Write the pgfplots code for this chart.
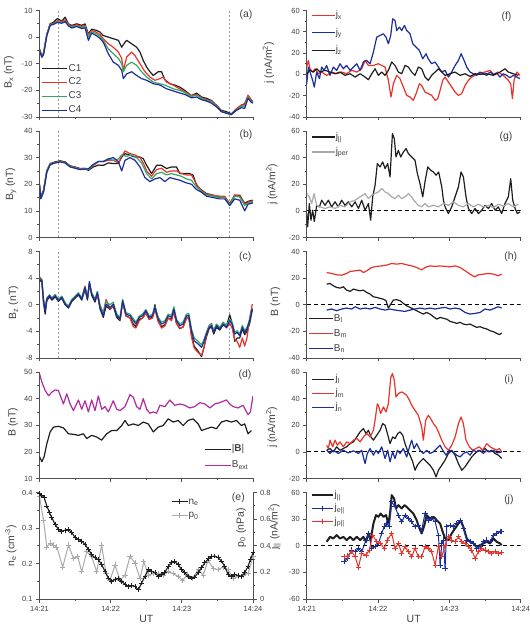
\documentclass[border=0pt]{standalone}
\usepackage{fontspec}
\setmainfont{Liberation Sans}
\usepackage{pgfplots}
\pgfplotsset{compat=1.18}
\definecolor{cred}{HTML}{E8332A}
\definecolor{cblue}{HTML}{1B2D9A}
\definecolor{cgreen}{HTML}{33A866}
\definecolor{cmag}{HTML}{B12A9F}
\definecolor{cgray}{HTML}{A9A9A9}
\definecolor{cblk}{HTML}{1E1E1E}
\definecolor{txt}{HTML}{404040}
\definecolor{axc}{HTML}{505050}
\definecolor{vline}{HTML}{9A9A9A}
\tikzset{plab/.style={anchor=east, font=\fontsize{10.5}{11}\selectfont, text=txt}}
\pgfplotsset{
  panel/.style={
    scale only axis, width=213.5bp, height=106.5bp,
    xmin=0, xmax=180,
    axis x line*=bottom, axis y line*=left,
    axis line style={-, draw=axc, line width=0.8bp},
    tick align=outside,
    tick style={draw=axc, line width=0.7bp},
    major tick length=3.5bp, minor tick length=2bp,
    xtick={0,60,120,180}, minor xtick={30,90,150},
    xticklabels={},
    minor y tick num=1,
    tick label style={font=\fontsize{7.5}{8}\selectfont, text=txt},
    label style={font=\fontsize{10.5}{11}\selectfont, text=txt},
    xlabel style={yshift=2.5bp},
    /pgf/number format/assume math mode=true,
    clip mode=individual,
    legend cell align=left,
    legend style={draw=none, fill=none, inner sep=0pt, anchor=north west,
      font=\fontsize{10}{11}\selectfont, text=txt,
      nodes={inner sep=0.6bp, text height=7bp, text depth=2bp}},
  },
  legimg/.style n args={2}{legend image code/.code={\draw[mark repeat=2,mark phase=2,##1] plot coordinates {(0bp,0bp) (#1bp,0bp) (#2bp,0bp)};}},
  dat/.style={line width=1.2bp, mark=none, line join=round},
  zl/.style={black, line width=0.8bp, dash pattern=on 4bp off 3bp, forget plot},
  vl/.style={vline, line width=0.8bp, dash pattern=on 2bp off 2bp, forget plot},
}
\begin{document}
\begin{tikzpicture}
%================ (a) Bx
\begin{axis}[panel, at={(39.5bp,507bp)}, anchor=south west,
  ymin=-30, ymax=10, ytick={-30,-20,-10,0,10},
  ylabel={B\textsubscript{x} (nT)},
  ylabel style={at={(axis description cs:-0.143,0.42)}, anchor=center},
  legimg={12.5}{25},
  legend style={at={(axis description cs:0.010,0.505)}, row sep=3.7bp}]
\addplot[vl] coordinates {(15.7,-30) (15.7,10)};
\addplot[vl] coordinates {(160.1,-30) (160.1,10)};
\addplot[dat, cblk] coordinates {(0,-4.4)(2,-7)(3.4,-6)(6.2,1.2)(9,5)(11.8,5.6)(15.1,7)(18.8,6)(21.6,7.5)(24.4,5)(27.2,4.4)(31.4,5)(35.6,4.4)(38.4,5)(41.2,1.2)(44,3)(48.2,2.5)(51,1.9)(53.8,0.6)(58,0)(62.2,-0.6)(66.5,-1.2)(69.3,-3.8)(72.1,-1.9)(73.5,-1.2)(77.7,-2.5)(81.9,-3.8)(84.7,-5.6)(87.5,-8.8)(90.3,-11.2)(93.1,-13)(95.9,-14.4)(100.1,-13)(102.9,-13)(105.7,-16)(109.9,-17.5)(114.1,-18)(118.3,-18.8)(122.5,-20)(128.1,-22)(132.4,-21)(136.6,-22.5)(140.8,-23)(145,-23.8)(149.2,-25.6)(153.4,-27.5)(157.6,-28)(161.8,-28.8)(166,-26.9)(170.2,-25.6)(173,-25)(175.8,-22)(178.6,-23.8)(180,-24.5)};
\addlegendentry{C1}
\addplot[dat, cred] coordinates {(0,-4.8)(2,-7.2)(3.4,-6.2)(6.2,1)(9,4.8)(11.8,5.2)(15.1,6.2)(18.8,5.8)(21.6,6.5)(24.4,4.8)(27.2,4)(31.4,4.6)(35.6,4)(38.4,4.5)(41.2,0.8)(44,2.5)(48.2,1.8)(51,1)(53.8,-0.6)(58,-2.5)(62.2,-3.8)(66.5,-5.6)(69.3,-8)(70.7,-12.5)(73.5,-7.5)(77.7,-5.6)(80.5,-6.9)(84.7,-10)(88.9,-13)(93.1,-15)(97.3,-16.2)(101.5,-15.6)(104.3,-15)(107.1,-16.9)(112.7,-18)(118.3,-19.5)(122.5,-20.5)(128.1,-22)(132.4,-21.5)(136.6,-22.8)(140.8,-23.5)(145,-24)(149.2,-25.8)(153.4,-27.8)(157.6,-28.5)(161.8,-29.2)(166,-27)(170.2,-25.5)(173,-25.5)(175.8,-21.8)(178.6,-23.5)(180,-24.2)};
\addlegendentry{C2}
\addplot[dat, cgreen] coordinates {(0,-5)(2,-7.4)(3.4,-6.4)(6.2,0.8)(9,4.6)(11.8,5)(15.1,5.8)(18.8,5.5)(21.6,6)(24.4,4.5)(27.2,3.8)(31.4,4.2)(35.6,3.6)(38.4,4)(41.2,0)(44,2)(48.2,1.2)(51,0.3)(53.8,-1.2)(58,-4.4)(62.2,-6.2)(66.5,-8)(69.3,-10)(70.7,-13)(73.5,-10.6)(77.7,-9.4)(81.9,-10.6)(86.1,-13)(90.3,-15)(95.9,-16.9)(101.5,-17.5)(105.7,-18)(112.7,-19.4)(118.3,-20)(122.5,-20.8)(128.1,-22.3)(132.4,-21.8)(136.6,-23)(140.8,-23.8)(145,-24.3)(149.2,-26)(153.4,-28)(157.6,-28.5)(161.8,-29)(166,-27.5)(170.2,-26)(173,-26)(175.8,-22.5)(178.6,-24)(180,-24.5)};
\addlegendentry{C3}
\addplot[dat, cblue] coordinates {(0,-5.2)(2,-7.6)(3.4,-6.6)(6.2,0.5)(9,4.4)(11.8,4.8)(15.1,5.5)(18.8,5.2)(21.6,5.8)(24.4,4.2)(27.2,3.4)(31.4,4)(35.6,3.2)(38.4,3.5)(41.2,-1.2)(44,1.5)(48.2,0.5)(51,-0.5)(53.8,-1.9)(58,-6.2)(62.2,-9.4)(66.5,-10.6)(69.3,-12.5)(70.7,-15.6)(73.5,-13.8)(77.7,-13)(81.9,-14.4)(86.1,-15.6)(90.3,-16.2)(95.9,-17.5)(101.5,-18)(107.1,-19.4)(112.7,-20.2)(118.3,-21)(122.5,-21.5)(128.1,-22.8)(132.4,-22.5)(136.6,-23.5)(140.8,-24)(145,-24.8)(149.2,-26.2)(153.4,-28)(157.6,-28.6)(161.8,-29)(166,-27.5)(170.2,-26.5)(173,-26.8)(175.8,-23)(178.6,-24.5)(180,-24.8)};
\addlegendentry{C4}
\node[plab] at (rel axis cs:1.014,0.958) {(a)};
\end{axis}
%================ (b) By
\begin{axis}[panel, at={(39.5bp,386.5bp)}, anchor=south west,
  ymin=0, ymax=40, ytick={0,10,20,30,40},
  ylabel={B\textsubscript{y} (nT)},
  ylabel style={at={(axis description cs:-0.1335,0.5)}, anchor=center}]
\addplot[vl] coordinates {(15.7,0) (15.7,40)};
\addplot[vl] coordinates {(160.1,0) (160.1,40)};
\addplot[dat, cblk] coordinates {(0,20.2)(1.1,15.2)(3.4,17.8)(6.2,25.2)(9,27.8)(13.2,28.4)(17.4,28.8)(21.6,28.4)(25.8,26.9)(30,26.5)(34.2,25.9)(38.4,25.9)(41.2,25.2)(45.4,26.5)(49.6,27.2)(53.8,27.1)(58,28)(62.2,27.8)(66.5,27.8)(69.3,30.2)(72.1,31.5)(76.3,30.9)(80.5,30.2)(84.7,30.2)(87.5,29.6)(90.3,27.1)(94.5,24)(98.7,27.1)(102.9,27.1)(107.1,25.9)(111.3,26.5)(115.5,26.5)(118.3,24)(122.5,24)(126.7,24)(129.5,23.4)(132.4,19.6)(136.6,17.8)(140.8,16.5)(146.4,15.9)(152,15.2)(156.2,15.2)(160.4,12.8)(164.6,15.9)(168.8,15.9)(173,12.8)(175.8,13.6)(180,14)};
\addplot[dat, cred] coordinates {(0,19.8)(1.1,15)(3.4,17.5)(6.2,25)(9,27.6)(13.2,28.2)(17.4,28.6)(21.6,28.2)(25.8,26.8)(30,26.4)(34.2,25.8)(38.4,26)(41.2,25.5)(45.4,27)(49.6,28.5)(53.8,28.5)(58,29)(62.2,29)(66.5,28)(69.3,30.5)(72.1,32.5)(76.3,31.5)(80.5,31)(84.7,30)(87.5,28)(90.3,25)(94.5,23)(98.7,25.5)(102.9,26)(107.1,24.5)(111.3,25)(115.5,25)(119.7,24)(123.9,23.5)(128.1,23.5)(132.4,20)(136.6,17.5)(140.8,16.3)(146.4,15.8)(152,15.5)(156.2,15.5)(160.4,12.5)(164.6,16)(168.8,15.5)(173,12.5)(175.8,13.2)(180,13.8)};
\addplot[dat, cgreen] coordinates {(0,19.6)(1.1,14.8)(3.4,17.3)(6.2,24.8)(9,27.5)(13.2,28.1)(17.4,28.5)(21.6,28.1)(25.8,26.6)(30,26.2)(34.2,25.6)(38.4,25.8)(41.2,25.6)(45.4,27.2)(49.6,28.6)(53.8,28.6)(58,29.5)(62.2,29)(66.5,29.5)(69.3,31)(73.5,30.5)(77.7,31)(81.9,30)(86.1,28)(90.3,24)(94.5,22)(98.7,24)(102.9,24.5)(107.1,23.5)(111.3,24)(115.5,23.5)(119.7,23)(123.9,22)(128.1,21.5)(132.4,19)(136.6,17.3)(140.8,16)(146.4,15.5)(152,15)(156.2,15)(160.4,12.3)(164.6,15.5)(168.8,15.2)(173,12)(175.8,12.8)(180,13.5)};
\addplot[dat, cblue] coordinates {(0,19.5)(1.1,14.5)(3.4,17)(6.2,24.5)(9,27.3)(13.2,28)(17.4,28.4)(21.6,28)(25.8,26.5)(30,26)(34.2,25.5)(38.4,25.7)(41.2,25.8)(45.4,27.5)(49.6,28.5)(53.8,28.5)(58,29.5)(62.2,30)(66.5,28.5)(69.3,25)(72.1,29)(76.3,30)(80.5,29)(84.7,26.5)(88.9,22.5)(93.1,21)(97.3,22)(101.5,22.5)(105.7,21)(109.9,22.5)(114.1,22)(118.3,21.5)(123.9,20.5)(128.1,20)(132.4,18)(136.6,17)(140.8,15.5)(146.4,15)(152,14.5)(156.2,14.5)(160.4,12)(164.6,14.5)(168.8,14)(173,10)(175.8,12.5)(180,13)};
\node[plab] at (rel axis cs:1.014,0.962) {(b)};
\end{axis}
%================ (c) Bz
\begin{axis}[panel, at={(39.5bp,266bp)}, anchor=south west,
  ymin=-8, ymax=8, ytick={-8,-4,0,4,8},
  ylabel={B\textsubscript{z} (nT)},
  ylabel style={at={(axis description cs:-0.1218,0.52)}, anchor=center}]
\addplot[vl] coordinates {(15.7,-8) (15.7,8)};
\addplot[vl] coordinates {(160.1,-8) (160.1,8)};
\addplot[dat, cblk] coordinates {(0,3.7)(2,3.4)(3.4,0.2)(4.8,-1.4)(6.2,0.6)(8.4,1.2)(10.4,0.7)(13.2,1.2)(16,0.5)(18.8,1)(21.6,0)(24.4,-0.5)(27.2,0.5)(30,1)(32.8,1.5)(35.6,0.7)(38.4,2.3)(40.4,0.7)(42.1,3.2)(44,1.4)(46.8,0.4)(48.8,1.6)(51,-0.6)(53.8,-1.9)(56.1,-0.2)(59.4,-0.7)(62.2,-0.2)(65.1,-1.9)(67.9,-2.4)(70.1,0.4)(72.9,-1.7)(76.3,-2)(79.1,-2.9)(81.3,-3.3)(84.1,-2.2)(86.9,-2)(89.7,-1.2)(92.5,-2.2)(95.3,-1.8)(97.3,0)(100.1,-2.5)(102.9,-3.3)(105.7,-3)(108.5,-2)(111.3,-2.2)(113.3,-1)(115.5,-2.8)(118.3,-3.6)(121.1,-3.3)(123.9,-2)(125.9,-2)(128.1,-4.5)(130.4,-6.2)(133.8,-7)(136.6,-7.8)(138.5,-6.5)(140.8,-4.8)(143,-3.6)(145,-3.3)(146.9,-4.4)(149.2,-3.4)(152,-3.8)(154.8,-3)(157.6,-3.2)(160.4,-1.5)(162.4,-2.8)(164.6,-5.5)(166.6,-5)(168.8,-5)(171,-3.6)(173,-4.5)(174.9,-4)(177.2,-2.8)(179.4,-0.8)};
\addplot[dat, cred] coordinates {(0,4.2)(2,3.8)(3.4,0.5)(4.8,-0.5)(6.2,1)(8.4,1.4)(10.4,1)(13.2,1.5)(16,0.7)(18.8,1.2)(21.6,0.2)(24.4,-0.3)(27.2,0.7)(30,1.2)(32.8,1.7)(35.6,1)(38.4,2.8)(40.4,1)(42.1,3)(44,1.8)(46.8,0.8)(48.8,1.4)(51,-0.2)(53.8,-1.2)(56.1,0.8)(59.4,-0.6)(62.2,0)(65.1,-1.5)(67.9,-2.3)(70.1,0.4)(72.9,-1.6)(76.3,-2)(79.1,-3.3)(81.3,-3.5)(84.1,-2.4)(86.9,-2)(89.7,-1.2)(92.5,-2.2)(95.3,-2)(97.3,-0.8)(100.1,-2.5)(102.9,-3.5)(105.7,-3.2)(108.5,-2)(111.3,-2.4)(113.3,-1)(115.5,-2.8)(118.3,-3.5)(121.1,-3.4)(123.9,-2)(125.9,-1.8)(128.1,-4.8)(130.4,-6.5)(133.8,-7.2)(136.6,-7.6)(138.5,-6.6)(140.8,-4.6)(143,-3.2)(145,-2.8)(146.9,-4)(149.2,-3)(152,-3.5)(154.8,-2.8)(157.6,-3.5)(160.4,-2.8)(162.4,-3.5)(164.6,-5.2)(166.6,-5.5)(168.8,-6.4)(171,-5)(173,-6.2)(174.9,-5)(177.2,-2)(179.4,0.1)};
\addplot[dat, cgreen] coordinates {(0,4)(2,3.7)(3.4,0.8)(4.8,-0.6)(6.2,1)(8.4,1.5)(10.4,1)(13.2,1.5)(16,0.8)(18.8,1.3)(21.6,0.3)(24.4,-0.2)(27.2,0.8)(30,1.3)(32.8,1.8)(35.6,1)(38.4,2.7)(40.4,1)(42.1,3.3)(44,1.8)(46.8,0.8)(48.8,2)(51,0)(53.8,-1.3)(56.1,0.5)(59.4,0)(62.2,0.4)(65.1,-1.4)(67.9,-1.9)(70.1,0.8)(72.9,-1.2)(76.3,-1.4)(79.1,-2.1)(81.3,-2.6)(84.1,-1.7)(86.9,-1.4)(89.7,-0.7)(92.5,-1.7)(95.3,-1.4)(97.3,-0.3)(100.1,-1.9)(102.9,-2.6)(105.7,-2.4)(108.5,-1.4)(111.3,-1.6)(113.3,-0.3)(115.5,-2.2)(118.3,-2.9)(121.1,-2.6)(123.9,-1.4)(125.9,-1.3)(128.1,-3.6)(130.4,-5)(133.8,-5.5)(136.6,-6)(138.5,-5.3)(140.8,-4.1)(143,-3.1)(145,-2.9)(146.9,-3.9)(149.2,-2.9)(152,-3.4)(154.8,-2.6)(157.6,-3.1)(160.4,-2.2)(162.4,-2.6)(164.6,-4.1)(166.6,-3.9)(168.8,-4.4)(171,-3.1)(173,-3.9)(174.9,-3.4)(177.2,-2.2)(179.4,-0.5)};
\addplot[dat, cblue] coordinates {(0,3.85)(2,3.6)(3.4,0.6)(4.8,-0.9)(6.2,0.85)(8.4,1.35)(10.4,0.85)(13.2,1.35)(16,0.6)(18.8,1.1)(21.6,0.1)(24.4,-0.4)(27.2,0.6)(30,1.1)(32.8,1.6)(35.6,0.85)(38.4,2.6)(40.4,0.85)(42.1,3.5)(44,1.6)(46.8,0.6)(48.8,1.85)(51,-0.4)(53.8,-1.65)(56.1,0.1)(59.4,-0.4)(62.2,0.1)(65.1,-1.65)(67.9,-2.15)(70.1,0.6)(72.9,-1.4)(76.3,-1.65)(79.1,-2.4)(81.3,-2.9)(84.1,-1.9)(86.9,-1.65)(89.7,-0.9)(92.5,-1.9)(95.3,-1.65)(97.3,-0.4)(100.1,-2.15)(102.9,-2.9)(105.7,-2.65)(108.5,-1.65)(111.3,-1.9)(113.3,-0.65)(115.5,-2.4)(118.3,-3.15)(121.1,-2.9)(123.9,-1.65)(125.9,-1.65)(128.1,-3.9)(130.4,-5.4)(133.8,-5.9)(136.6,-6.4)(138.5,-5.65)(140.8,-4.4)(143,-3.4)(145,-3.15)(146.9,-4.15)(149.2,-3.15)(152,-3.65)(154.8,-2.9)(157.6,-3.4)(160.4,-2.4)(162.4,-2.9)(164.6,-4.4)(166.6,-4.15)(168.8,-4.65)(171,-3.4)(173,-4.15)(174.9,-3.65)(177.2,-2.4)(179.4,-0.65)};
\node[plab] at (rel axis cs:1.009,0.946) {(c)};
\end{axis}
%================ (d) B
\begin{axis}[panel, at={(39.5bp,145.5bp)}, anchor=south west,
  ymin=10, ymax=50, ytick={10,20,30,40,50},
  ylabel={B (nT)},
  ylabel style={at={(axis description cs:-0.124,0.53)}, anchor=center},
  legimg={13}{26},
  legend style={at={(axis description cs:0.770,0.325)}, row sep=5.8bp}]
\addplot[dat, cblk] coordinates {(0,18.2)(2,16.3)(3.9,18.2)(6.2,23.1)(9,27.5)(11.8,29.3)(16,29.6)(20.2,29)(24.4,26.8)(28.6,26.6)(32.8,26.2)(37,26.8)(39.8,25)(44,26.2)(48.2,25.6)(52.4,24.4)(56.6,26.8)(60.8,28)(65.1,28)(69.3,29.9)(72.1,31.8)(74.9,29.9)(79.1,30.5)(83.3,29.9)(87.5,31.2)(91.7,30.5)(95.9,27.5)(100.1,29.3)(104.3,29.9)(108.5,32.4)(112.7,31.2)(116.9,31.8)(121.1,29.9)(125.3,31.8)(129.5,32.4)(133.8,30.5)(136.6,28)(140.8,28.7)(145,29.3)(149.2,28.7)(153.4,31.2)(157.6,31.8)(161.8,31.2)(166,31.8)(170.2,29.9)(173,30.5)(175.8,26.8)(178.6,28)};
\addlegendentry{|\textbf{B}|}
\addplot[dat, cmag] coordinates {(0,49.4)(2,46.2)(4.8,43)(7.6,41.1)(10.4,42.4)(13.2,43.3)(16,43)(20.2,38)(23,41.8)(25.8,38)(28.6,35.5)(32.8,39.5)(35.6,36)(38.4,39.2)(41.2,35)(44,39.5)(46.8,35.5)(49.6,41)(52.4,36)(55.2,37)(58,35)(62.2,39.2)(65.1,36)(67.9,35.5)(72.1,37)(76.3,41.5)(79.1,40.5)(81.9,37)(84.7,36)(87.5,40)(90.3,36)(93.1,34.5)(95.9,35)(98.7,34.5)(101.5,37.5)(105.7,37)(109.9,39.5)(114.1,37.5)(118.3,38)(122.5,37.5)(126.7,36.5)(130.9,37)(135.2,38.5)(139.4,38)(143.6,36.5)(147.8,38)(152,38.5)(157.6,39.5)(160.4,38)(163.2,37)(167.4,36.5)(171.6,37.5)(175.8,34)(177.8,35)(180,41)};
\addlegendentry{B\textsubscript{ext}}
\node[plab] at (rel axis cs:1.009,0.972) {(d)};
\end{axis}
%================ (e) ne & p0
\begin{axis}[panel, at={(39.5bp,25bp)}, anchor=south west,
  axis x line=none, axis y line*=right,
  ymin=0, ymax=0.8, ytick={0,0.2,0.4,0.6,0.8},
  yticklabels={0,0.2,0.4,0.6,0.8}]
\addplot[line width=1bp, cgray, mark=+, mark size=2.6bp, mark options={line width=0.8bp}] coordinates {(0,0.77)(3.4,0.59)(6.2,0.39)(9,0.42)(11.8,0.405)(14.6,0.39)(19.6,0.24)(24.4,0.405)(28.6,0.305)(32.2,0.32)(35.6,0.205)(39.8,0.355)(44,0.32)(48.2,0.205)(52.4,0.405)(56.1,0.19)(59.4,0.14)(63.7,0.255)(67.9,0.14)(72.1,0.18)(76.3,0.32)(80.5,0.27)(84.7,0.155)(88,0.28)(91.7,0.18)(95.9,0.19)(100.1,0.19)(104.3,0.18)(108.5,0.205)(112.7,0.19)(116.9,0.17)(120.6,0.14)(124.5,0.18)(128.9,0.155)(133.8,0.22)(138,0.18)(142.2,0.29)(146.4,0.23)(150.6,0.22)(154.8,0.24)(159,0.22)(163.2,0.155)(167.4,0.17)(171.6,0.18)(175.8,0.19)(180,0.32)};
\end{axis}
\begin{axis}[panel, at={(39.5bp,25bp)}, anchor=south west,
  ymin=0.1, ymax=0.4, ytick={0.1,0.2,0.3,0.4},
  yticklabels={0.1,0.2,0.3,0.4},
  xticklabels={14:21,14:22,14:23,14:24}, xlabel={UT},
  ylabel={n\textsubscript{e} (cm\textsuperscript{-3})},
  ylabel style={at={(axis description cs:-0.1335,0.5)}, anchor=center},
  legimg={8}{16},
  legend style={at={(axis description cs:0.615,0.962)}, row sep=3.1bp}]
\addplot[line width=1.1bp, cblk, mark=+, mark size=2.4bp, mark options={line width=0.8bp}] coordinates {(0,0.397)(2,0.392)(3.9,0.386)(6.2,0.362)(8.4,0.343)(10.4,0.329)(13.2,0.31)(16,0.296)(18.8,0.291)(21.6,0.294)(24.4,0.296)(27.2,0.287)(30,0.273)(32.8,0.268)(35.6,0.263)(38.4,0.254)(41.2,0.24)(44,0.225)(46.8,0.216)(49.6,0.211)(52.4,0.197)(55.2,0.178)(58,0.159)(60.8,0.15)(63.7,0.155)(66.5,0.157)(69.3,0.15)(72.1,0.141)(74.9,0.136)(77.7,0.138)(80.5,0.136)(83.3,0.126)(86.1,0.145)(88.9,0.164)(91.7,0.183)(94.5,0.178)(97.3,0.174)(100.1,0.164)(102.9,0.169)(105.7,0.175)(108.5,0.192)(111.3,0.202)(114.1,0.205)(116.9,0.197)(119.7,0.183)(122.5,0.174)(125.3,0.164)(128.1,0.159)(130.9,0.162)(133.8,0.174)(136.6,0.188)(139.4,0.202)(142.2,0.213)(145,0.219)(147.8,0.221)(150.6,0.216)(153.4,0.207)(156.2,0.192)(159,0.169)(161.8,0.164)(164.6,0.169)(167.4,0.166)(170.2,0.164)(173,0.174)(175.8,0.192)(177.8,0.211)(180,0.23)};
\addlegendentry{n\textsubscript{e}}
\addlegendimage{line width=1bp, cgray, mark=+, mark size=2.6bp, mark options={line width=0.8bp}}
\addlegendentry{p\textsubscript{0}}
\node[plab] at (rel axis cs:0.978,0.955) {(e)};
\node[rotate=90, font=\fontsize{10.5}{11}\selectfont, text=txt] at (rel axis cs:0.944,0.67) {p\textsubscript{0} (nPa)};
\end{axis}
%================ (f) j xyz
\begin{axis}[panel, at={(306.7bp,507bp)}, anchor=south west, width=214bp,
  ymin=-40, ymax=60, ytick={-40,-20,0,20,40,60},
  ylabel={j (nA/m\textsuperscript{2})},
  ylabel style={at={(axis description cs:-0.179,0.51)}, anchor=center},
  legimg={11.5}{23},
  legend style={at={(axis description cs:0.019,1.006)}, row sep=7.3bp}]
\addplot[dat, cred] coordinates {(0,6.9)(1.4,13.1)(2.8,5.3)(5,2.2)(7,5.3)(9.8,0.6)(12.6,2.2)(16.8,-0.9)(21,2.2)(25.2,0.6)(29.4,2.2)(33.6,0.6)(37.9,3.8)(42.1,2.2)(46.3,5.3)(49.1,13.1)(51.9,8.4)(56.1,8.4)(60.3,10)(63.1,8.4)(65.9,6.9)(68.7,-5.6)(70.9,-21.2)(72.9,-8.8)(75.7,-0.9)(78.5,-4)(81.3,-11.9)(84.1,-19.7)(86.9,-21.2)(89.7,-24.4)(92,-18.1)(94.8,-8.8)(96.7,-10.3)(99.5,-16.6)(102.3,-18.1)(105.1,-19.7)(108,-24.4)(110.2,-22.8)(112.2,-15)(114.4,-5.6)(116.4,-2.5)(119.2,-7.2)(122,-11.9)(124.8,-16.6)(127.6,-19.7)(130.4,-18.1)(133.2,-10.3)(136,-5.6)(138.8,-2.5)(141.6,-0.9)(145.8,1.2)(150,2.2)(154.2,3.8)(157,0)(161.2,2.2)(165.4,-0.9)(169.6,-5.6)(171.6,-8.8)(173,-22.8)(174.4,-5.6)(176.7,2.2)(179.4,-0.9)};
\addlegendentry{j\textsubscript{x}}
\addplot[dat, cblue] coordinates {(0,-8.8)(1.4,6.9)(2.8,2.2)(5,-5.6)(6.4,-11.9)(8.4,2.2)(10.7,-4)(12.6,6.9)(14.6,3.8)(16.8,8.4)(19.6,-0.9)(22.4,6.9)(25.2,3.8)(28,10)(30.8,5.3)(33.6,8.4)(36.5,3.8)(39.3,6.9)(42.1,10)(44.9,3.8)(47.7,11.6)(50.5,13.1)(53.3,10)(56.1,20.9)(58.9,35)(61.7,36.6)(64.5,38.1)(66.7,35)(68.7,28.8)(70.7,36.6)(72.3,52.2)(74.3,50.6)(75.7,41.2)(78,44.4)(79.9,41.2)(82.2,46)(84.1,41.2)(86.9,38.1)(89.2,28.8)(92,25.6)(94.8,22.5)(97.6,14.7)(100.4,19.4)(102.2,14.7)(105.1,10)(108,11.6)(110.8,6.9)(113.6,2.2)(116.4,3.8)(119.2,-2.5)(122,2.2)(124.8,8.4)(127.6,13.1)(129.9,19.4)(132.4,13.1)(134.6,6.9)(137.4,2.2)(140.2,0.6)(143,-0.9)(145.8,2.2)(148.6,0.6)(151.4,-0.9)(154.2,2.2)(157,0)(159.8,1.2)(162.6,-2.5)(165.4,0.6)(168.2,-0.9)(171,-3.1)(173.8,-0.9)(176.7,-2.5)(179.4,-4)};
\addlegendentry{j\textsubscript{y}}
\addplot[dat, cblk] coordinates {(0,0.6)(2.8,3.8)(5.6,2.2)(8.4,5.3)(11.2,2.2)(15.4,3.8)(19.6,2.2)(23.8,0.6)(28,2.2)(32.2,-0.9)(36.5,0.6)(40.7,-2.5)(44.9,0.6)(49.1,-2.5)(51.9,-5)(54.7,0.6)(57.5,5.3)(60.3,-0.9)(63.1,2.2)(65.9,-0.9)(68.7,3.8)(71.5,11.6)(74.3,8.4)(77.1,2.2)(79.9,0.6)(82.7,8.4)(85.5,6.9)(88.3,2.2)(91.1,-0.9)(93.9,6.9)(96.7,5.3)(99.5,-2.5)(102.3,-5.6)(105.1,-0.9)(108,2.2)(110.8,5.3)(113.6,2.2)(116.4,-0.9)(120.6,0.6)(124.8,2.2)(129,-0.9)(133.2,0.6)(137.4,-1.9)(141.6,0.6)(145.8,0)(151.4,0.6)(157,-0.9)(162.6,2.2)(166.8,5.3)(169.6,2.2)(173.8,0.6)(178.1,-0.9)};
\addlegendentry{j\textsubscript{z}}
\node[plab] at (rel axis cs:0.973,0.942) {(f)};
\end{axis}
%================ (g) j par/per
\begin{axis}[panel, at={(306.7bp,386.5bp)}, anchor=south west, width=214bp,
  ymin=-20, ymax=60, ytick={-20,0,20,40,60},
  ylabel={j (nA/m\textsuperscript{2})},
  ylabel style={at={(axis description cs:-0.163,0.5)}, anchor=center},
  legimg={11.5}{23},
  legend style={at={(axis description cs:0.019,0.994)}, row sep=4.8bp}]
\addplot[zl] coordinates {(0,0) (180,0)};
\addplot[dat, cblk] coordinates {(0,-2)(0.8,-12)(2.2,5.5)(3.6,-7)(5,0.5)(6.4,-8)(8.4,4.2)(10.7,3)(12.6,8)(15.4,4.2)(18.2,8)(21,3)(23.8,6.8)(26.6,3)(29.4,8)(32.2,4.2)(35,6.8)(37.9,3)(40.7,6.8)(43.5,1.8)(46.3,8)(49.1,0.5)(51.9,5.5)(53.8,-7)(55.5,10.5)(57.5,19.2)(59.4,35.5)(61.7,33)(63.9,36.8)(65.9,31.8)(68.1,35.5)(70.1,25.5)(72.1,58)(73.7,54.2)(75.1,40.5)(77.1,45.5)(79.1,40.5)(81.3,44.2)(83.6,46.8)(85.5,43)(88.3,40.5)(91.1,38)(93.1,28)(95.3,20.5)(97.6,10.5)(99.5,21.8)(101.8,33)(104.3,30.5)(106.6,29.2)(108.8,26.8)(111,29.2)(113.6,18)(115,8)(116.4,3)(119.2,-2)(122,3)(124.8,10.5)(127.6,18)(129.8,29.2)(131.8,25.5)(134,10.5)(136,1.8)(138.8,-2)(141.6,1.8)(144.4,-2)(147.2,0.5)(150,4.2)(152.8,1.8)(155.6,5.5)(158.4,0.5)(161.2,3)(164,-2)(166.8,5.5)(169.6,10.5)(171.6,24.2)(173.3,8)(175.3,1.8)(177.2,-2)(179.4,-0.8)};
\addlegendentry{j\textsubscript{||}}
\addplot[dat, cgray] coordinates {(0,13)(2.2,10.5)(4.2,5.5)(6.2,13)(8.4,4.2)(11.2,3)(15.4,1.8)(19.6,3)(23.8,1.8)(28,4.2)(32.2,3)(36.5,6.8)(40.7,8)(44.9,10.5)(49.1,13)(51.9,9.2)(54.7,11.8)(57.5,13)(60.3,14.2)(63.1,16.8)(65.9,14.2)(68.7,13)(71.5,10.5)(74.3,9.2)(77.1,11.8)(79.9,9.2)(82.7,10.5)(85.5,13)(88.3,10.5)(91.1,6.8)(93.9,4.2)(96.7,3)(99.5,5.5)(102.3,3)(106.6,4.2)(110.8,3)(115,5.5)(119.2,4.2)(123.4,6.8)(127.6,4.2)(131.8,3)(136,5.5)(140.2,3)(144.4,5)(148.6,3)(152.8,4.2)(157,2.5)(161.2,5)(165.4,3.5)(169.6,5.5)(173.8,3)(178.1,5)};
\addlegendentry{j\textsubscript{per}}
\node[plab] at (rel axis cs:0.978,0.946) {(g)};
\end{axis}
%================ (h) B lmn
\begin{axis}[panel, at={(306.7bp,266bp)}, anchor=south west, width=214bp,
  ymin=-40, ymax=40, ytick={-40,-20,0,20,40},
  ylabel={B (nT)},
  ylabel style={at={(axis description cs:-0.1463,0.53)}, anchor=center},
  legimg={12}{24},
  legend style={at={(axis description cs:0.006,0.42)}, row sep=4.8bp}]
\addplot[zl] coordinates {(0,0) (180,0)};
\addplot[dat, cblk] coordinates {(16.8,15.5)(19.6,16)(22.4,14.2)(25.2,13)(28,12.5)(30.8,13.5)(33.6,11)(36.5,10)(39.3,11.8)(42.1,11)(44.9,10.5)(47.7,11)(50.5,9.2)(53.3,8)(56.1,6)(58.9,5.5)(61.7,4.8)(64.5,4.2)(66.7,3)(68.7,-2.5)(70.7,0.5)(72.9,3.5)(75.7,3.8)(78.5,3)(81.3,1)(84.1,-0.8)(86.9,-2)(89.7,-3.2)(92.5,-4.5)(95.3,-5.8)(98.1,-7)(100.9,-5.8)(103.7,-7)(106.6,-9)(109.4,-10.8)(112.2,-9.5)(115,-10.2)(117.8,-10.8)(120.6,-12.5)(123.4,-13.2)(126.2,-14)(129,-13.2)(131.8,-14.5)(134.6,-15)(137.4,-14.5)(140.2,-15.8)(143,-17)(145.8,-16.5)(148.6,-17.5)(151.4,-18.2)(154.2,-19.5)(157,-20.2)(159.8,-21.5)(162,-22.5)(164,-21.2)};
\addlegendentry{B\textsubscript{l}}
\addplot[dat, cred] coordinates {(16.8,24.2)(21,23.5)(25.2,22.5)(29.4,22.2)(33.6,23.5)(36.5,25)(40.7,25.5)(44.9,26)(47.7,24.2)(50.5,25.5)(54.7,28)(58.9,28.8)(63.1,29.2)(67.3,29.8)(71.5,31)(75.7,30.5)(79.9,31)(84.1,30)(88.3,29.2)(92.5,28)(96.7,26.2)(99.5,28)(103.7,29.2)(108,28.8)(112.2,29.2)(116.4,28.8)(120.6,28.5)(124.8,29.2)(129,28)(133.2,25.5)(137.4,23)(141,21)(144.4,22.5)(148.6,23)(152.8,23.5)(157,23)(161.2,21.8)(164,23)};
\addlegendentry{B\textsubscript{m}}
\addplot[dat, cblue] coordinates {(16.8,-4)(21,-3.2)(25.2,-4.5)(29.4,-3.2)(33.6,-2.5)(37.9,-3.2)(40.7,-1.5)(44.9,-3.2)(49.1,-2.5)(53.3,-3.2)(57.5,-2)(61.7,-3.2)(65.9,-4)(70.1,-3.2)(74.3,-4)(78.5,-4.5)(82.7,-5)(86.9,-4)(91.1,-3.2)(95.3,-2.5)(99.5,-3.2)(103.7,-2.5)(108,-3.2)(112.2,-2.5)(116.4,-2)(120.6,-3.2)(124.8,-2.5)(129,-3.2)(133.2,-5.8)(137.4,-7)(141.6,-6.5)(145.8,-5.8)(150,-3.2)(154.2,-4)(158.4,-2.5)(161.2,-1.5)(164,-2.5)};
\addlegendentry{B\textsubscript{n}}
\node[plab] at (rel axis cs:1.0,0.951) {(h)};
\end{axis}
%================ (i) j lmn
\begin{axis}[panel, at={(306.7bp,145.5bp)}, anchor=south west, width=214bp,
  ymin=-20, ymax=60, ytick={-20,0,20,40,60},
  ylabel={j (nA/m\textsuperscript{2})},
  ylabel style={at={(axis description cs:-0.164,0.48)}, anchor=center},
  legimg={11}{22},
  legend style={at={(axis description cs:0.023,0.982)}, row sep=3.8bp}]
\addplot[zl] coordinates {(0,0) (180,0)};
\addplot[dat, cblk] coordinates {(16.8,1.2)(19.6,2.5)(22.4,0)(25.2,3.8)(28,1.2)(30.8,2.5)(33.6,3.8)(36.5,6.2)(39.3,7.5)(42.1,11.2)(44.9,15)(47.7,17.5)(49.9,13.8)(51.9,16.2)(54.1,11.2)(56.1,8.8)(58.9,12.5)(61.7,16.2)(63.9,21.2)(65.9,20)(67.9,13.8)(70.1,6.2)(72.3,11.2)(74.3,10)(76.6,13.8)(78.5,15)(80.8,12.5)(82.7,6.2)(84.7,1.2)(86.9,-2.5)(89.2,-7.5)(91.1,-13.8)(93.1,-10)(95.3,-7.5)(98.1,-5)(100.9,-7.5)(103.7,-10)(106.6,-13.8)(108.8,-18.8)(110.8,-13.8)(113.6,-10)(116.4,-6.2)(119.2,-1.2)(122,1.2)(124.8,-2.5)(127.6,-8.8)(130.4,-13.8)(133.2,-11.2)(136,-7.5)(138.8,-3.8)(141.6,-1.2)(144.4,1.2)(147.2,0)(150,2.5)(152.8,0)(155.6,1.2)(158.4,-1.2)(161.2,-2.5)(164,-5)};
\addlegendentry{j\textsubscript{l}}
\addplot[dat, cred] coordinates {(16.8,5)(18.2,2.5)(19.6,8.8)(21.9,3.8)(23.8,8.8)(25.8,5)(28,7.5)(30.8,3.8)(33.6,7.5)(36.5,6.2)(39.3,8.8)(42.1,10)(44.9,7.5)(47.7,11.2)(50.5,13.8)(53.3,11.2)(56.1,16.2)(57.5,23.8)(59.4,36)(60.3,35)(62.2,28.8)(64.5,33.8)(66.7,30)(68.7,36.2)(70.7,56)(72.1,58.8)(73.7,53.8)(75.1,41.2)(77.1,43.8)(79.9,45)(82.2,43.8)(84.1,42.5)(86.4,38.8)(88.3,35)(91.1,31.2)(93.9,27.5)(96.7,18.8)(98.1,8.8)(100.1,23.8)(102.3,27.5)(104.3,25)(106.6,21.2)(108.8,18.8)(110.8,15)(113.6,8.8)(116.4,3.8)(119.2,1.2)(122,5)(124.8,11.2)(127.6,21.2)(129.8,26.2)(131.8,21.2)(134,8.8)(136.8,3.8)(139.6,1.2)(142.4,2.5)(145.2,3.8)(148,1.2)(151.4,6.2)(154.2,3.8)(157,2.5)(159.8,1.2)(162.1,2.5)(164,0)};
\addlegendentry{j\textsubscript{m}}
\addplot[dat, cblue] coordinates {(16.8,1.2)(19.6,-1.2)(22.4,1.2)(26.6,-1.2)(30.8,1.2)(35,-0.8)(39.3,0.8)(43.5,-1.2)(46.3,1.2)(49.1,-8.8)(51,-1.2)(53.3,2.5)(56.1,-2.5)(58.3,1.2)(60.3,-1.2)(63.1,3.8)(65.9,-5)(68.1,1.2)(70.1,-7.5)(72.3,0)(74.3,-5)(76.3,1.2)(78.5,-1.2)(81.3,2.5)(84.1,-3.8)(86.9,5)(88.3,8.8)(90.3,2.5)(92.5,6.2)(95.3,1.2)(98.1,-1.2)(100.9,1.2)(103.7,-1.2)(106.6,0)(109.4,2.5)(112.2,5)(114.4,1.2)(117.2,-2.5)(120,1.2)(122.8,0)(126.2,-2.5)(129,-3.8)(131.8,-1.2)(134.6,0)(137.4,-2.5)(140.2,1.2)(143,0)(145.8,1.2)(148.6,-1.2)(151.4,1.2)(154.2,0)(157,1.2)(160.4,-0.8)(164,0)};
\addlegendentry{j\textsubscript{n}}
\node[plab] at (rel axis cs:0.983,0.931) {(i)};
\end{axis}
%================ (j) j par e/p
\begin{axis}[panel, at={(306.7bp,25bp)}, anchor=south west, width=214bp,
  ymin=-60, ymax=60, ytick={-60,-30,0,30,60},
  xticklabels={14:21,14:22,14:23,14:24}, xlabel={UT},
  ylabel={j\textsubscript{||} (nA/m\textsuperscript{2})},
  ylabel style={at={(axis description cs:-0.15,0.68)}, anchor=center},
  legimg={10.5}{21},
  legend style={at={(axis description cs:0.019,1.024)}, row sep=3bp}]
\addplot[zl] coordinates {(0,0) (180,0)};
\addplot[line width=2bp, cblk, line join=round] coordinates {(16.8,4.5)(19.6,10)(22.4,8.2)(25.2,12)(28,8.2)(30.8,10)(33.6,6.4)(36.5,10)(39.3,6.4)(42.1,10)(44.9,6.4)(47.7,10)(49.9,4.5)(51.9,13.9)(53.8,6.4)(56.1,25)(58.3,34.5)(60.3,32.6)(62.2,36.3)(64.5,32.6)(66.7,34.5)(68.7,25)(70.1,36.3)(71.5,57)(73.5,53.2)(75.1,42)(77.1,45.7)(79.9,42)(82.2,45.7)(84.1,43.8)(86.9,40)(89.7,36.3)(92.5,28.8)(94.8,19.5)(96.7,13.9)(99,23.2)(100.9,34.5)(103.7,30.7)(106.6,32.6)(109.4,28.8)(112.2,25)(114.4,15.7)(116.4,8.2)(119.2,6.4)(122,13.9)(124.8,19.5)(127.6,25)(129.8,28)(131.8,21.3)(134.6,8.2)(137.4,4.5)(140.2,2.6)(143,-1.1)(145.8,0.7)(148.6,2.6)(151.4,4.5)(154.2,2.6)(157,8.2)(159.8,4.5)(162.6,2.6)(164,0.7)};
\addlegendentry{j\textsubscript{||}}
\addplot[line width=1bp, cblue, mark=+, mark size=2.6bp, mark options={line width=0.9bp}] coordinates {(31.4,-18)(34.2,-14.2)(37.9,-4.9)(40.7,-6.7)(43.5,-3)(46.3,-6.7)(49.9,6.4)(51.9,13.9)(54.7,-3)(57.5,-1.1)(60.3,2.6)(63.1,13.9)(65.1,21.3)(67.3,25)(69.5,21.3)(71.5,49.4)(74.3,43.8)(77.1,34.5)(79.9,27)(82.7,34.5)(85.5,30.7)(88.3,27)(91.1,21.3)(93.9,23.2)(96.7,17.6)(99.5,36.3)(102.3,28.8)(105.1,30.7)(108,27)(110.8,12)(112.2,-21.7)(113.6,2.6)(115,6.4)(116.4,-26)(117.8,21.3)(120.6,23.2)(123.4,21.3)(126.2,25)(129,28.8)(131.8,19.5)(134.6,6.4)(137.4,4.5)(140.2,2.6)(143,-3)(145.8,-1.1)(148.6,4.5)(151.4,6.4)(154.2,4.5)(157,12)(159.8,13.9)(162.6,15.7)(164,16.5)};
\addlegendentry{j\textsubscript{e||}}
\addplot[line width=1bp, cred, mark=+, mark size=2.6bp, mark options={line width=0.9bp}] coordinates {(31.4,-12.4)(34.2,-11.6)(37.9,-6.7)(40.7,-12.4)(43.5,-24.3)(46.3,-8.6)(49.9,-10.5)(52.7,-4.9)(55.5,12)(58.9,4.5)(62.2,2.6)(65.1,-3)(67.9,6.4)(71.5,13.9)(74.3,-3)(77.1,2.6)(79.9,-8.6)(82.7,-1.1)(85.5,-6.7)(88.3,-12.4)(91.1,-3)(93.9,-12.4)(96.7,-12.4)(99.5,-1.1)(102.3,-3)(105.1,-6.7)(108,-21.7)(110.8,-1.1)(113.6,-12.4)(116.4,0.7)(119.2,10)(122,6.4)(124.8,4.5)(127.6,10)(130.4,4.5)(133.2,2.6)(136,-1.1)(138.8,-4.9)(141.6,-14.2)(144.4,-6.7)(147.2,-3)(150,-4.9)(152.8,-6.7)(155.6,-8.6)(158.4,-6.7)(161.2,-8.6)(164,-7.8)};
\addlegendentry{j\textsubscript{p||}}
\node[plab] at (rel axis cs:0.983,0.93) {(j)};
\end{axis}
\pgfresetboundingbox
\useasboundingbox (0,0) rectangle (530bp,624bp);
\end{tikzpicture}
\end{document}
